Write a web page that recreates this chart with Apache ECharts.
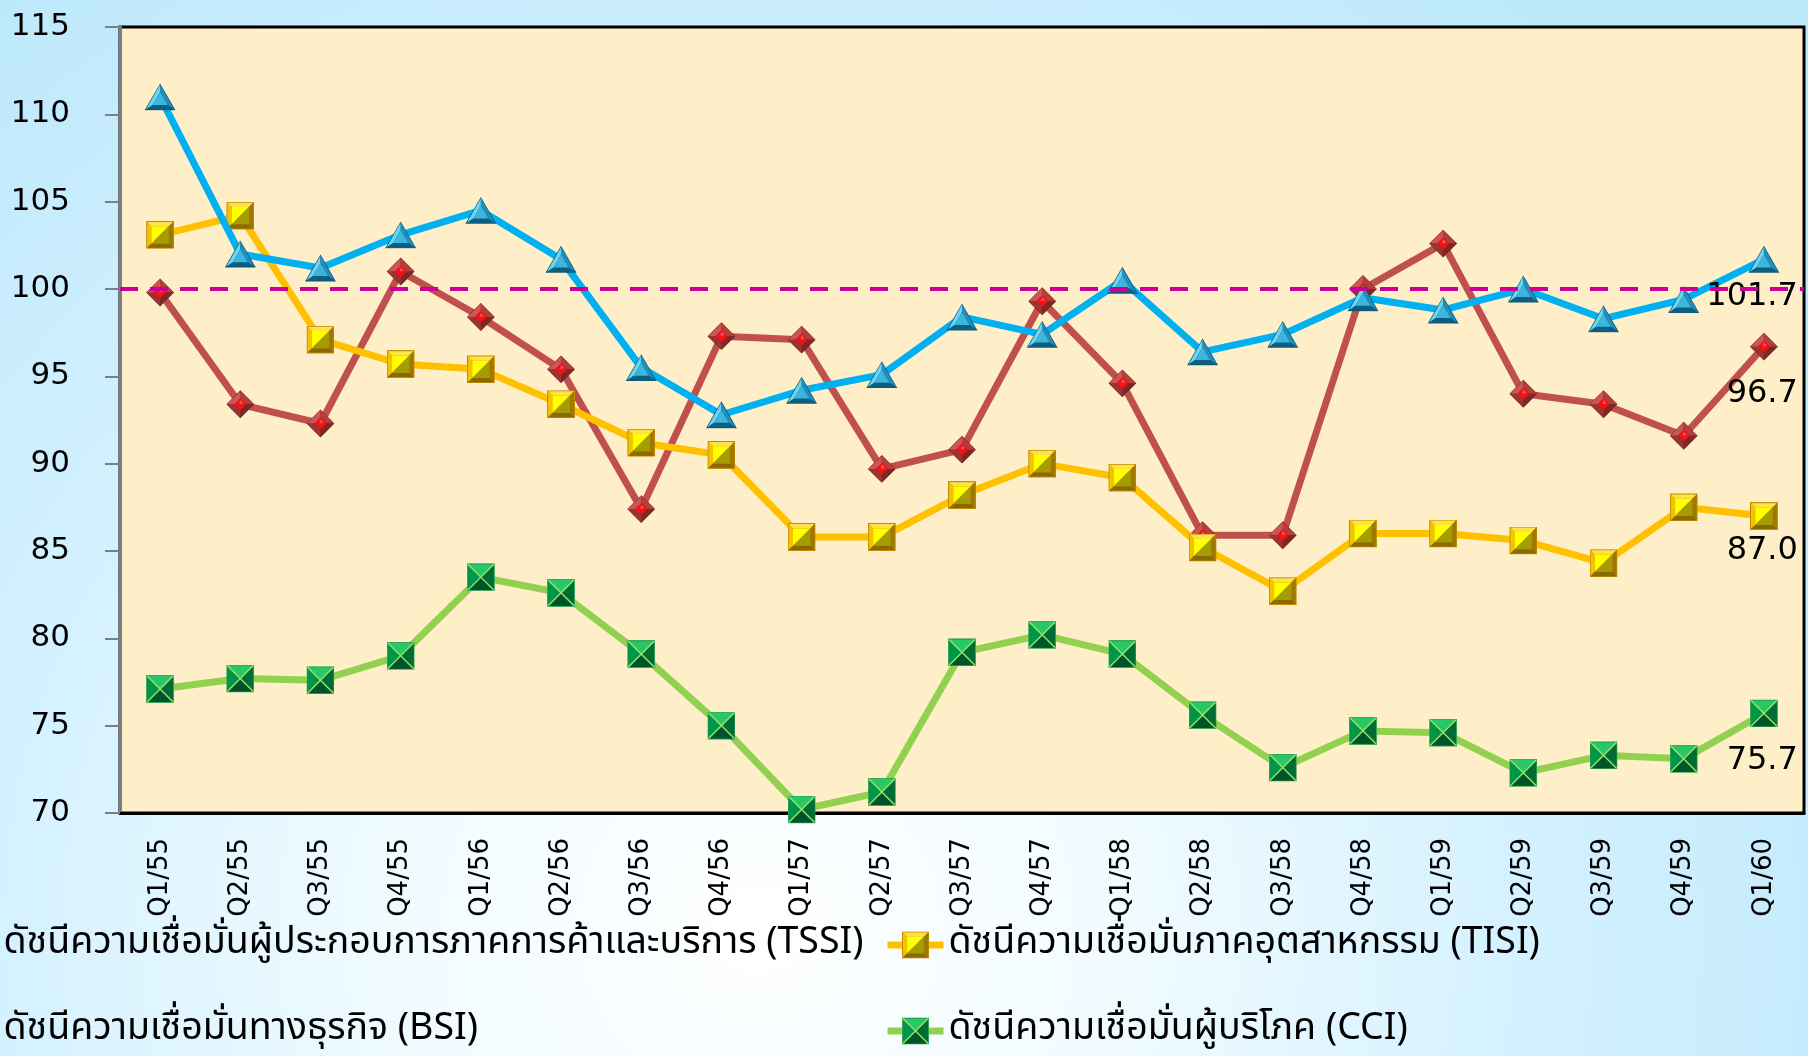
<!DOCTYPE html>
<html>
<head>
<meta charset="utf-8">
<script src="https://cdn.jsdelivr.net/npm/echarts@6/dist/echarts.min.js"></script>
<style>
  html, body { margin: 0; padding: 0; width: 1808px; height: 1056px; overflow: hidden; }
  body {
    background: radial-gradient(ellipse 68% 112% at 42% 88%, #ffffff 0%, #f0fbff 30%, #d4f1ff 62%, #bde8fc 100%);
  }
  #chart { width: 1808px; height: 1056px; }
</style>
</head>
<body>
<div id="chart"></div>
<script>
// Quarters (Thai Buddhist-era years)
const quarters = ['Q1/55','Q2/55','Q3/55','Q4/55','Q1/56','Q2/56','Q3/56','Q4/56','Q1/57','Q2/57','Q3/57',
                  'Q4/57','Q1/58','Q2/58','Q3/58','Q4/58','Q1/59','Q2/59','Q3/59','Q4/59','Q1/60'];

const nameTSSI = 'ดัชนีความเชื่อมั่นผู้ประกอบการภาคการค้าและบริการ (TSSI)';
const nameTISI = 'ดัชนีความเชื่อมั่นภาคอุตสาหกรรม (TISI)';
const nameBSI  = 'ดัชนีความเชื่อมั่นทางธุรกิจ (BSI)';
const nameCCI  = 'ดัชนีความเชื่อมั่นผู้บริโภค (CCI)';

const tssi = [99.8, 93.4, 92.3, 101.0, 98.4, 95.4, 87.4, 97.3, 97.1, 89.7, 90.8,
              99.3, 94.6, 85.9, 85.9, 100.0, 102.6, 94.0, 93.4, 91.6, 96.7];
const tisi = [103.1, 104.2, 97.1, 95.7, 95.4, 93.4, 91.2, 90.5, 85.8, 85.8, 88.2,
              90.0, 89.2, 85.2, 82.7, 86.0, 86.0, 85.6, 84.3, 87.5, 87.0];
const bsi  = [111.0, 102.0, 101.2, 103.1, 104.5, 101.7, 95.5, 92.8, 94.2, 95.1, 98.4,
              97.4, 100.5, 96.4, 97.4, 99.5, 98.8, 100.0, 98.3, 99.4, 101.7];
const cci  = [77.1, 77.7, 77.6, 79.0, 83.5, 82.6, 79.1, 75.0, 70.2, 71.2, 79.2,
              80.2, 79.1, 75.6, 72.6, 74.7, 74.6, 72.3, 73.3, 73.1, 75.7];

const yTicks = { min: 70, max: 115, step: 5 };
const baseline = 100;

// Bevelled marker artwork
function svgUri(w, h, body) {
  const s = `<svg xmlns="http://www.w3.org/2000/svg" width="${w}" height="${h}" viewBox="0 0 ${w} ${h}">${body}</svg>`;
  return 'data:image/svg+xml;charset=utf-8,' + encodeURIComponent(s);
}
const diamondImg = svgUri(28, 28,
  '<polygon points="14,1 27,14 14,27 1,14" fill="#7a2828"/>' +
  '<polygon points="1.5,14 14,1.5 14,8.5 8.5,14" fill="#cf5454"/>' +
  '<polygon points="14,1.5 26.5,14 19.5,14 14,8.5" fill="#b73c3c"/>' +
  '<polygon points="26.5,14 14,26.5 14,19.5 19.5,14" fill="#7d2727"/>' +
  '<polygon points="14,26.5 1.5,14 8.5,14 14,19.5" fill="#9a3434"/>' +
  '<polygon points="14,8.5 19.5,14 14,19.5 8.5,14" fill="#f01414"/>' +
  '<polygon points="14,10 17,13 13,14 " fill="#ff6a6a" opacity="0.7"/>');
const squareImg = svgUri(26, 26,
  '<rect x="0" y="0" width="26" height="26" fill="#c08a00"/>' +
  '<polygon points="1,1 25,1 21,5 5,5" fill="#ffe24a"/>' +
  '<polygon points="1,1 5,5 5,21 1,25" fill="#f2c400"/>' +
  '<polygon points="25,1 25,25 21,21 21,5" fill="#a07800"/>' +
  '<polygon points="1,25 5,21 21,21 25,25" fill="#8c6800"/>' +
  '<polygon points="5,5 21,5 5,21" fill="#ffff00"/>' +
  '<polygon points="21,5 21,21 5,21" fill="#a59c00"/>');
const triangleImg = svgUri(30, 26,
  '<polygon points="15,0.5 29.5,25.5 0.5,25.5" fill="#0b5877"/>' +
  '<polygon points="15,1.5 1.8,24.8 8,20.5 15,8.5" fill="#6ad6f4"/>' +
  '<polygon points="15,1.5 28.2,24.8 22,20.5 15,8.5" fill="#1f8fbd"/>' +
  '<polygon points="1.8,24.8 28.2,24.8 22,20.5 8,20.5" fill="#0d5f82"/>' +
  '<polygon points="15,8.5 22,20.5 8,20.5" fill="#3fb4dc"/>');
const xsquareImg = svgUri(26, 26,
  '<rect x="0.5" y="0.5" width="25" height="25" fill="#007a36" stroke="#3aa85a" stroke-width="1"/>' +
  '<polygon points="1,1 25,1 13,13" fill="#28c868"/>' +
  '<polygon points="1,25 25,25 13,13" fill="#00542a"/>' +
  '<polygon points="1,1 1,25 13,13" fill="#00964a"/>' +
  '<polygon points="25,1 25,25 13,13" fill="#006e34"/>' +
  '<line x1="1" y1="1" x2="25" y2="25" stroke="#9be36a" stroke-width="1.3"/>' +
  '<line x1="25" y1="1" x2="1" y2="25" stroke="#9be36a" stroke-width="1.3"/>');

const labelFont = "'DejaVu Sans', sans-serif";
const legendFont = "'Noto Sans Thai', 'Noto Sans Thai UI', Tahoma, 'DejaVu Sans', sans-serif";

// Only the last point of each line carries a value label
function withEndLabel(values, dy) {
  return values.map((v, i) => i === values.length - 1
    ? { value: v, label: { show: true, position: 'inside', align: 'right', offset: [34, dy],
        fontSize: 32, fontFamily: labelFont, color: '#000', formatter: p => p.value.toFixed(1) } }
    : v);
}

function lineSeries(name, values, color, img, size, dy, z) {
  return {
    name, type: 'line', data: withEndLabel(values, dy), z,
    symbol: 'image://' + img, symbolSize: size, showAllSymbol: true,
    lineStyle: { color, width: 7 }, itemStyle: { color },
    emphasis: { disabled: true }, animation: false
  };
}

function preload(srcs) {
  return Promise.all(srcs.map(s => new Promise(res => { const im = new Image(); im.onload = im.onerror = res; im.src = s; })));
}

preload([diamondImg, squareImg, triangleImg, xsquareImg]).then(() => {
  const chart = echarts.init(document.getElementById('chart'), null, { renderer: 'canvas' });
  const legendCommon = {
    orient: 'vertical', itemWidth: 56, itemHeight: 34, itemGap: 42, padding: 0,
    lineStyle: { width: 7 },
    textStyle: { fontSize: 37.5, lineHeight: 44, fontFamily: legendFont, color: '#000' },
    selectedMode: false
  };
  chart.setOption({
    backgroundColor: 'transparent',
    animation: false,
    legend: [
      Object.assign({ left: -61, top: 923, data: [nameTSSI, nameBSI] }, legendCommon),
      Object.assign({ left: 884, top: 923, data: [nameTISI, nameCCI] }, legendCommon)
    ],
    grid: { left: 120, right: 4, top: 27, bottom: 243, show: true, backgroundColor: '#ffefc8',
            borderColor: '#000', borderWidth: 3 },
    xAxis: {
      type: 'category', data: quarters, boundaryGap: true,
      axisLine: { lineStyle: { color: '#000', width: 3 } },
      axisTick: { show: false },
      axisLabel: { rotate: 90, margin: 25, fontSize: 26, fontFamily: labelFont, color: '#000', interval: 0 }
    },
    yAxis: {
      type: 'value', min: yTicks.min, max: yTicks.max, interval: yTicks.step,
      axisLine: { show: true, lineStyle: { color: '#7f7f7f', width: 3 } },
      axisTick: { show: true, inside: false, length: 15, lineStyle: { color: '#7f7f7f', width: 2 } },
      splitLine: { show: false },
      axisLabel: { margin: 50, fontSize: 31, fontFamily: labelFont, color: '#000', padding: [0, 0, 12, 0] }
    },
    series: [
      {
        type: 'line', data: [], z: 1, silent: true,
        markLine: {
          silent: true, symbol: ['none', 'none'], label: { show: false },
          lineStyle: { color: '#cc0099', width: 4, type: [18, 12] },
          data: [{ yAxis: baseline }]
        }
      },
      lineSeries(nameTSSI, tssi, '#c0504d', diamondImg, [30, 30], 47, 2),
      lineSeries(nameTISI, tisi, '#ffc000', squareImg, [28, 28], 35, 3),
      lineSeries(nameBSI, bsi, '#00b0f0', triangleImg, [32, 28], 37, 4),
      lineSeries(nameCCI, cci, '#92d050', xsquareImg, [28, 28], 47, 5)
    ]
  });
});
</script>
</body>
</html>
